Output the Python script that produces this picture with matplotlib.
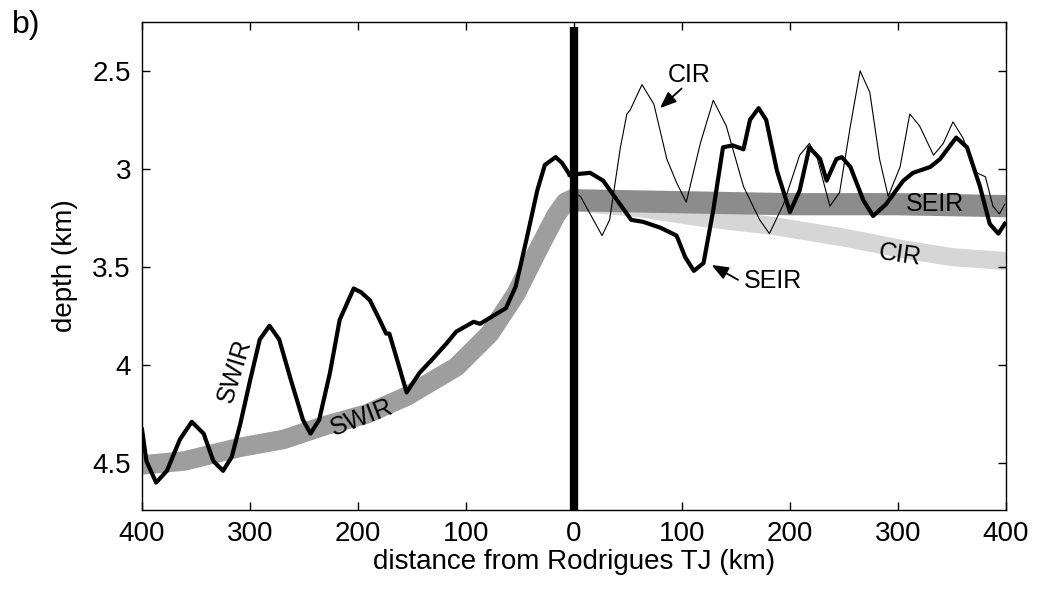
import matplotlib
matplotlib.use("Agg")
import matplotlib.pyplot as plt

plt.rcParams.update({"font.family": ["Liberation Sans", "DejaVu Sans"],
                     "font.size": 20})

# regional depth trends (gray bands), distance in km, depth in km
swir_band_x = [-400, -361, -309, -269, -231, -192, -155, -109, -78, -54, -33, -17, -8, 0]
swir_band_y = [4.51, 4.49, 4.42, 4.38, 4.31, 4.25, 4.16, 4.01, 3.84, 3.64, 3.41, 3.24,
               3.17, 3.15]
seir_band_x = [0, 100, 200, 300, 400]
seir_band_y = [3.16, 3.17, 3.18, 3.18, 3.19]
cir_band_x = [0, 60, 120, 183, 250, 305, 350, 400]
cir_band_y = [3.17, 3.20, 3.25, 3.29, 3.35, 3.41, 3.45, 3.47]

# along-axis profiles
swir_x = [-400, -396, -387, -377, -365, -354, -343, -334, -325, -317, -309, -300,
          -291, -282, -273, -262, -251, -244, -236, -226, -217, -204, -197, -189,
          -180, -174, -171, -164, -155, -143, -131, -118, -109, -93, -87, -75, -63,
          -54, -44, -34, -27, -17, -11, -4]
swir_y = [4.33, 4.49, 4.60, 4.54, 4.38, 4.29, 4.35, 4.49, 4.54, 4.47, 4.30, 4.08,
          3.87, 3.80, 3.87, 4.08, 4.28, 4.35, 4.28, 4.04, 3.77, 3.61, 3.63, 3.67,
          3.77, 3.84, 3.84, 3.97, 4.14, 4.04, 3.97, 3.89, 3.83, 3.78, 3.79, 3.75,
          3.71, 3.60, 3.36, 3.11, 2.98, 2.94, 2.97, 3.03]
seir_x = [-4, 15, 27, 40, 53, 64, 80, 95, 103, 111, 120, 129, 138, 147, 157, 163,
          171, 178, 188, 200, 209, 218, 228, 234, 243, 248, 256, 268, 277, 289, 305,
          314, 330, 339, 354, 364, 376, 385, 393, 399]
seir_y = [3.03, 3.02, 3.06, 3.16, 3.26, 3.27, 3.30, 3.34, 3.45, 3.52, 3.48, 3.21,
          2.89, 2.88, 2.90, 2.75, 2.69, 2.75, 3.01, 3.22, 3.11, 2.89, 2.95, 3.06,
          2.95, 2.94, 2.99, 3.16, 3.24, 3.18, 3.06, 3.02, 2.99, 2.95, 2.84, 2.89,
          3.09, 3.28, 3.33, 3.28]
cir_x = [-2, 6, 18, 26, 33, 43, 49, 52, 63, 74, 86, 95, 104, 117, 129, 141, 157,
         172, 181, 194, 209, 218, 225, 237, 246, 256, 265, 274, 283, 291, 302, 311,
         320, 333, 342, 351, 360, 373, 381, 388, 394, 399]
cir_y = [3.12, 3.14, 3.26, 3.34, 3.26, 2.89, 2.72, 2.70, 2.57, 2.67, 2.95, 3.07,
         3.17, 2.87, 2.65, 2.78, 3.09, 3.26, 3.33, 3.18, 2.93, 2.87, 2.94, 3.19,
         3.12, 2.78, 2.50, 2.61, 2.95, 3.14, 2.99, 2.72, 2.78, 2.93, 2.87, 2.76,
         2.84, 3.02, 3.04, 3.19, 3.23, 3.18]

xticks = [-400, -300, -200, -100, 0, 100, 200, 300, 400]
xticklabels = ["400", "300", "200", "100", "0", "100", "200", "300", "400"]
yticks = [2.5, 3, 3.5, 4, 4.5]
yticklabels = ["2.5", "3", "3.5", "4", "4.5"]

fig = plt.figure(figsize=(10.37, 5.91), dpi=100)
ax = fig.add_axes([0.137, 0.137, 0.833, 0.826])

# broad bands first, then the profiles on top
ax.plot(cir_band_x, cir_band_y, color="#d6d6d6", lw=13, solid_capstyle="butt",
        solid_joinstyle="round", zorder=1)
ax.plot(seir_band_x, seir_band_y, color="#8c8c8c", lw=16, solid_capstyle="butt", zorder=2)
ax.plot(swir_band_x, swir_band_y, color="#9e9e9e", lw=14, solid_capstyle="butt",
        solid_joinstyle="round", zorder=2)

ax.plot(cir_x, cir_y, color="black", lw=0.8, zorder=3, solid_joinstyle="round")
ax.plot(swir_x, swir_y, color="black", lw=3.0, zorder=4, solid_joinstyle="round")
ax.plot(seir_x, seir_y, color="black", lw=3.0, zorder=4, solid_joinstyle="round")
ax.plot([0, 0], [2.275, 4.74], color="black", lw=6, solid_capstyle="butt", zorder=5)

fs = 18
arrow = dict(arrowstyle="-|>,head_length=0.5,head_width=0.2", color="black", lw=1.3,
             shrinkA=0, shrinkB=0)
ax.text(107, 2.52, "CIR", ha="center", va="center", fontsize=fs, zorder=6)
ax.annotate("", xy=(79.6, 2.69), xytext=(99.7, 2.59), arrowprops=arrow, zorder=6)
ax.text(184, 3.57, "SEIR", ha="center", va="center", fontsize=fs, zorder=6)
ax.annotate("", xy=(127.5, 3.49), xytext=(152, 3.566), arrowprops=arrow, zorder=6)
ax.text(334, 3.18, "SEIR", ha="center", va="center", fontsize=fs, zorder=6)
ax.text(302, 3.44, "CIR", ha="center", va="center", fontsize=fs, rotation=-8, zorder=6)
ax.text(-314, 4.03, "SWIR", ha="center", va="center", fontsize=fs, rotation=73, zorder=6)
ax.text(-197, 4.27, "SWIR", ha="center", va="center", fontsize=fs, rotation=21, zorder=6)

ax.set_xlim(-400, 400)
ax.set_ylim(4.74, 2.25)
ax.set_xticks(xticks)
ax.set_xticklabels(xticklabels)
ax.set_yticks(yticks)
ax.set_yticklabels(yticklabels)
ax.tick_params(direction="in", top=True, right=True, length=6, width=1, pad=8,
               labelsize=20)
for s in ax.spines.values():
    s.set_linewidth(1)
ax.set_xlabel("distance from Rodrigues TJ (km)", fontsize=20, labelpad=1)
ax.set_ylabel("depth (km)", fontsize=20, labelpad=10)
fig.text(0.012, 0.958, "b)", fontsize=23, ha="left", va="center")

fig.savefig("out.png", dpi=100)
